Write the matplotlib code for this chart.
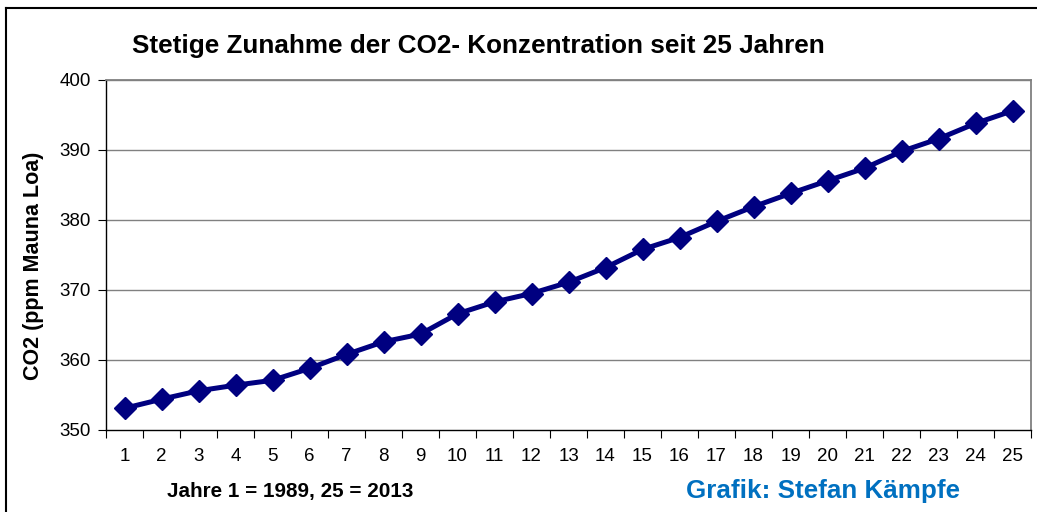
import matplotlib
matplotlib.use("Agg")
import matplotlib.pyplot as plt
from matplotlib.lines import Line2D

plt.rcParams["font.family"] = ["Liberation Sans", "DejaVu Sans"]

# CO2 annual means (ppm, Mauna Loa), year 1 = 1989 ... 25 = 2013
years = list(range(1, 26))
co2 = [353.1, 354.4, 355.6, 356.4, 357.1, 358.8, 360.8, 362.6, 363.7, 366.6,
       368.3, 369.5, 371.1, 373.2, 375.8, 377.5, 379.8, 381.9, 383.8, 385.6,
       387.4, 389.8, 391.6, 393.8, 395.6]
y_ticks = [350, 360, 370, 380, 390, 400]

W, H = 1037, 512
fig = plt.figure(figsize=(W / 100, H / 100), dpi=100)
ax = fig.add_axes([106 / W, 1 - 430 / H, 925 / W, 350 / H])

# category axis: point i sits in the middle of slot [i-1, i]
xs = [y - 0.5 for y in years]
ax.plot(xs, co2, color="#000080", lw=3.6, marker="D", ms=11.5,
        markeredgecolor="#000080", zorder=3)

ax.set_xlim(0, 25)
ax.set_ylim(350, 400)
ax.set_yticks(y_ticks)
ax.set_xticks(range(0, 26))
ax.set_xticks(xs, minor=True)
ax.set_xticklabels([])
ax.set_xticklabels([str(y) for y in years], minor=True)
ax.tick_params(axis="x", which="major", direction="out", length=6, color="#000000")
ax.tick_params(axis="x", which="minor", length=0, labelsize=13.5, pad=13)
ax.tick_params(axis="y", direction="out", length=6, labelsize=13.5, pad=5)

for v in y_ticks[1:]:
    ax.axhline(v, color="#808080", lw=1.0, zorder=1)

for side in ("top", "right"):
    ax.spines[side].set_color("#808080")
    ax.spines[side].set_linewidth(1.3)
for side in ("left", "bottom"):
    ax.spines[side].set_color("#000000")
    ax.spines[side].set_linewidth(1.0)

fig.text(34 / W, 1 - 266 / H, "CO2 (ppm Mauna Loa)", rotation=90,
         ha="center", va="center", fontsize=15.5, fontweight="bold")
fig.text(478 / W, 1 - 46 / H, "Stetige Zunahme der CO2- Konzentration seit 25 Jahren",
         ha="center", va="center", fontsize=18.8, fontweight="bold")
fig.text(290 / W, 1 - 492 / H, "Jahre 1 = 1989, 25 = 2013",
         ha="center", va="center", fontsize=14.9, fontweight="bold")
fig.text(823 / W, 1 - 491 / H, "Grafik: Stefan Kämpfe",
         ha="center", va="center", fontsize=18.7, fontweight="bold", color="#0070C0")

# outer chart frame (only top and left edges fall inside the picture)
fig.lines.append(Line2D([6 / W, 1], [1 - 8 / H, 1 - 8 / H], transform=fig.transFigure,
                        color="#000000", lw=1.5))
fig.lines.append(Line2D([6 / W, 6 / W], [0, 1 - 8 / H], transform=fig.transFigure,
                        color="#000000", lw=1.5))

fig.savefig("out.png", dpi=100)
